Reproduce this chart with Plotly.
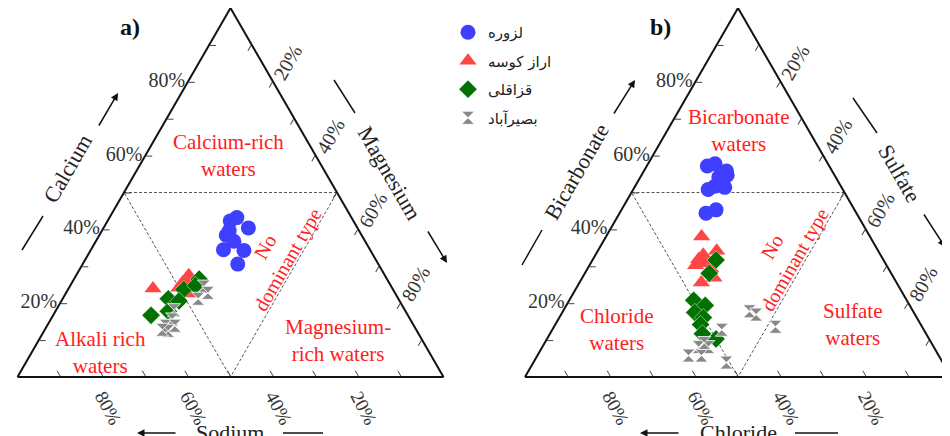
import plotly.graph_objects as go

# ---------------- Data ----------------
# Panel a (cations): a = Calcium, b = Sodium, c = Magnesium  (%)
lz_ca = [43.2, 42.3, 40.4, 38.4, 36.8, 34.5, 34.3, 30.6, 39.6]
lz_na = [26.9, 28.9, 25.6, 31.8, 30.8, 34.4, 29.7, 33.0, 30.5]
lz_mg = [29.9, 28.8, 34.0, 29.8, 32.4, 31.1, 36.0, 36.4, 29.9]

ak_ca = [24.0, 27.6, 25.6, 24.2, 22.6, 26.5]
ak_na = [56.2, 46.0, 48.4, 50.0, 48.3, 47.2]
ak_mg = [19.8, 26.4, 26.0, 25.8, 29.1, 26.3]

gh_ca = [26.5, 23.7, 21.2, 20.6, 17.8, 16.7, 24.8]
gh_na = [44.1, 49.1, 54.0, 51.8, 55.7, 60.3, 45.8]
gh_mg = [29.4, 27.2, 24.8, 27.6, 26.5, 23.0, 29.4]

bs_ca = [24.5, 22.8, 21.2, 18.1, 15.6, 13.9, 13.9, 12.5, 12.8]
bs_na = [44.0, 43.9, 47.0, 54.2, 55.9, 58.3, 56.1, 58.4, 59.6]
bs_mg = [31.5, 33.3, 31.8, 27.7, 28.5, 27.8, 30.0, 29.1, 27.6]

# Panel b (anions): a = Bicarbonate, b = Chloride, c = Sulfate  (%)
lz_hco3 = [57.2, 57.8, 55.8, 54.2, 51.4, 50.8, 51.7, 45.3, 44.4, 54.7]
lz_cl = [28.6, 26.5, 24.8, 27.4, 27.4, 31.6, 29.6, 32.5, 35.3, 25.2]
lz_so4 = [14.2, 15.7, 19.4, 18.4, 21.2, 17.6, 18.7, 22.2, 20.3, 20.1]

ak_hco3 = [38.1, 33.1, 34.2, 31.9, 30.8, 29.4, 26.9, 25.6, 30.3]
ak_cl = [39.5, 41.6, 37.9, 43.3, 42.3, 41.7, 42.2, 45.8, 44.8]
ak_so4 = [22.4, 25.3, 27.9, 24.8, 26.9, 28.9, 30.9, 28.6, 24.9]

gh_hco3 = [20.8, 19.4, 17.5, 16.1, 14.2, 11.7, 10.3, 31.7, 28.1]
gh_cl = [50.0, 48.0, 51.4, 50.1, 51.7, 52.5, 50.0, 39.3, 42.7]
gh_so4 = [29.2, 32.6, 31.1, 33.8, 34.1, 35.8, 39.7, 29.0, 29.2]

bs_hco3 = [12.8, 17.8, 16.9, 13.6, 5.8, 8.1, 8.1, 5.8, 3.9, 9.2]
bs_cl = [47.4, 38.4, 37.3, 34.4, 58.7, 55.2, 52.9, 55.7, 50.8, 53.3]
bs_so4 = [39.8, 43.8, 45.8, 52.0, 35.5, 36.7, 39.0, 38.5, 45.3, 37.5]

# "No dominant type" boundary triangle (a, b, c)
zone_a = [50, 50, 0, 50]
zone_b = [50, 0, 50, 50]
zone_c = [0, 50, 50, 0]

tick_vals = [10, 20, 30, 40, 50, 60, 70, 80, 90]
tick_text = ["", "20%", "", "40%", "", "60%", "", "80%", ""]

series_names = ["لزوره", "اراز کوسه", "قزاقلی", "بصیرآباد"]

# ---------------- Figure ----------------
W, H = 950, 436
OX, OY = 8, 8          # page body margin offset
SERIF = "Liberation Serif"

fig = go.Figure()

for sub in ["ternary", "ternary2"]:
    fig.add_trace(go.Scatterternary(
        a=zone_a, b=zone_b, c=zone_c, mode="lines", subplot=sub,
        line=dict(color="#555555", width=1, dash="3px,2px"),
        showlegend=False, hoverinfo="skip"))

styles = [
    dict(symbol="circle", color="#3f3fff", size=15, line=dict(width=0)),
    dict(symbol="triangle-up", color="#ff4545", size=15, line=dict(width=0)),
    dict(symbol="diamond", color="#037003", size=14, line=dict(width=0.5, color="#e0ffe0")),
    dict(symbol="hourglass", color="#888888", size=13, line=dict(width=0.8, color="#ffffff")),
]

panel_a = [(lz_ca, lz_na, lz_mg), (ak_ca, ak_na, ak_mg),
           (gh_ca, gh_na, gh_mg), (bs_ca, bs_na, bs_mg)]
panel_b = [(lz_hco3, lz_cl, lz_so4), (ak_hco3, ak_cl, ak_so4),
           (gh_hco3, gh_cl, gh_so4), (bs_hco3, bs_cl, bs_so4)]

for i, name in enumerate(series_names):
    for sub, data, show in [("ternary", panel_a[i], True), ("ternary2", panel_b[i], False)]:
        a, b, c = data
        fig.add_trace(go.Scatterternary(
            a=a, b=b, c=c, mode="markers", subplot=sub, name=name,
            legendgroup=name, showlegend=show,
            marker=styles[i]))


def axis(angle, size=20):
    return dict(
        min=0, tickmode="array", tickvals=tick_vals, ticktext=tick_text,
        ticks="inside", ticklen=6, tickwidth=1, tickcolor="#444",
        showgrid=False, showline=True, linecolor="#111", linewidth=2,
        tickfont=dict(family=SERIF, size=size, color="#333"),
        tickangle=angle, title=dict(text=""))


def ternary(x0, x1, ytop, ybot):
    return dict(
        sum=100, bgcolor="white",
        domain=dict(x=[(x0 - OX) / W, (x1 - OX) / W],
                    y=[1 - (ybot - OY) / H, 1 - (ytop - OY) / H]),
        aaxis=axis(0), baxis=axis(62, 19), caxis=axis(-60))


def P(x, y):
    return (x - OX) / W, 1 - (y - OY) / H


annotations = []
shapes = []


def label(x, y, text, size=21, color="#ff2020", angle=0, bold=False, yanchor="middle"):
    px_, py_ = P(x, y)
    if bold:
        text = "<b>" + text + "</b>"
    annotations.append(dict(
        x=px_, y=py_, xref="paper", yref="paper", text=text, showarrow=False,
        font=dict(family=SERIF, size=size, color=color), textangle=angle,
        xanchor="center", yanchor=yanchor))


def arrow(x0, y0, x1, y1):
    hx, hy = P(x1, y1)
    annotations.append(dict(
        x=hx, y=hy, xref="paper", yref="paper", ax=x0 - x1, ay=y0 - y1,
        text="", showarrow=True, arrowhead=2, arrowsize=1, arrowwidth=1.5,
        arrowcolor="#111"))


def seg(x0, y0, x1, y1):
    a0, b0 = P(x0, y0)
    a1, b1 = P(x1, y1)
    shapes.append(dict(type="line", xref="paper", yref="paper",
                       x0=a0, y0=b0, x1=a1, y1=b1,
                       line=dict(color="#111", width=1.5)))


# Panel a decorations
label(130, 27, "a)", size=24, color="#111", bold=True)
label(228, 155, "Calcium-rich<br>waters")
label(277, 254, "No<br>dominant type", size=20, angle=-60)
label(100, 352, "Alkali rich<br>waters")
label(338, 340, "Magnesium-<br>rich waters")
label(68, 169, "Calcium", size=22, color="#222", angle=-60)
label(390, 173, "Magnesium", size=22, color="#222", angle=60)
label(230, 432, "Sodium", size=22, color="#222")
arrow(98, 127, 118, 93)
arrow(427, 230, 447, 263)
arrow(177, 433, 137, 433)
seg(22, 250, 43, 216)
seg(334, 80, 355, 113)
seg(283, 433, 323, 433)

# Panel b decorations
label(660, 27, "b)", size=24, color="#111", bold=True)
label(738, 131, "Bicarbonate<br>waters")
label(784, 254, "No<br>dominant type", size=20, angle=-60)
label(617, 329, "Chloride<br>waters")
label(852, 324, "Sulfate<br>waters")
label(577, 172, "Bicarbonate", size=22, color="#222", angle=-60)
label(900, 173, "Sulfate", size=22, color="#222", angle=60)
label(738, 432, "Chloride", size=22, color="#222")
arrow(613, 115, 635, 80)
arrow(923, 213, 945, 247)
arrow(680, 433, 640, 433)
seg(522, 265, 542, 230)
seg(853, 98, 877, 133)
seg(795, 433, 838, 433)

fig.update_layout(
    width=W, height=H,
    margin=dict(l=0, r=0, t=0, b=0),
    paper_bgcolor="white",
    ternary=ternary(17.5, 443.5, 8, 377),
    ternary2=ternary(525, 951, 8, 377),
    showlegend=True,
    legend=dict(x=(448 - OX) / W, y=1 - (16 - OY) / H, xanchor="left", yanchor="top",
                bgcolor="rgba(0,0,0,0)", tracegroupgap=6,
                font=dict(family="DejaVu Sans", size=15, color="#222")),
    annotations=annotations,
    shapes=shapes,
)

fig.write_html("out.html")
